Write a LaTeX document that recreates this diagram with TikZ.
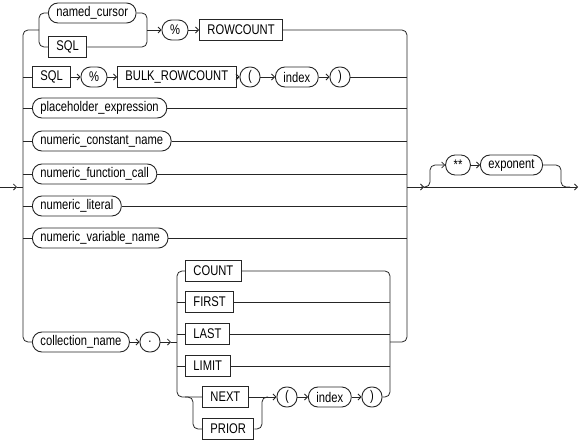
\documentclass[tikz,border=0pt]{standalone}
\usepackage{fontspec}
\setmainfont{Liberation Sans}[FakeStretch=0.8]
\usetikzlibrary{arrows.meta}
\begin{document}
\begin{tikzpicture}[x=1pt,y=-1pt,
  rr/.style={draw=black!85, line width=0.8pt, rounded corners=5pt},
  arr/.style={rr, -{Straight Barb[length=3pt,width=6pt]}},
  pill/.style={draw=black!85, line width=0.9pt, rounded corners=9.5pt, minimum height=20pt, minimum width=20pt, inner xsep=8pt, inner ysep=0pt, font=\fontsize{14}{16}\selectfont},
  kbox/.style={draw=black!85, line width=0.9pt, minimum height=21pt, inner xsep=8pt, inner ysep=0pt, font=\fontsize{14}{16}\selectfont}]
\useasboundingbox (0,0) rectangle (579,444);
% top row
\node[pill,anchor=west] (nc) at (48,13) {named\_cursor};
\node[kbox,anchor=west] (sql1) at (48,47) {SQL};
\node[pill] (pct1) at (175,30) {\%};
\node[kbox,anchor=west] (rc) at (199,30) {ROWCOUNT};
% row 2
\node[kbox,anchor=west] (sql2) at (32,77) {SQL};
\node[pill] (pct2) at (94,77) {\%};
\node[kbox,anchor=west] (bulk) at (117,77) {BULK\_ROWCOUNT};
\node[pill] (lp1) at (250,77) {(};
\node[pill,anchor=west] (idx1) at (275,77) {index};
\node[pill] (rp1) at (340,77) {)};
% simple rows
\node[pill,anchor=west] (ph) at (32,108) {placeholder\_expression};
\node[pill,anchor=west] (ncn) at (32,141) {numeric\_constant\_name};
\node[pill,anchor=west] (nfc) at (32,174) {numeric\_function\_call};
\node[pill,anchor=west] (nl) at (32,206) {numeric\_literal};
\node[pill,anchor=west] (nvn) at (32,238) {numeric\_variable\_name};
% collection row
\node[pill,anchor=west] (coll) at (32,342) {collection\_name};
\node[pill] (dot) at (150,342) {.};
\node[kbox,anchor=west] (count) at (185,271) {COUNT};
\node[kbox,anchor=west] (first) at (185,302) {FIRST};
\node[kbox,anchor=west] (last) at (185,334) {LAST};
\node[kbox,anchor=west] (limit) at (185,366) {LIMIT};
\node[kbox,anchor=west] (next) at (202,397) {NEXT};
\node[kbox,anchor=west] (prior) at (202,429) {PRIOR};
\node[pill] (lp2) at (287,397) {(};
\node[pill,anchor=west] (idx2) at (308,397) {index};
\node[pill] (rp2) at (372,397) {)};
% exponent
\node[pill] (stars) at (458,165) {**};
\node[pill,anchor=west] (expo) at (480,165) {exponent};
% coordinates
\coordinate (in) at (0,187);
\coordinate (inA) at (17,187);
\coordinate (trunkIn) at (23,187);
\coordinate (out) at (407,187);
\coordinate (loopA) at (424,187);
\coordinate (fin) at (578,187);
% entry and trunk
\draw[arr] (in) -- (inA);
\draw[rr] (inA) -- (trunkIn);
\draw[rr] (coll.west) -| (23,30) -- (39,30);
% top group
\draw[rr] (nc.west) -| (39,30) |- (sql1.west);
\draw[rr] (nc.east) -| (147,30) |- (sql1.east);
\draw[arr] (147,30) -- (pct1);
\draw[arr] (pct1) -- (rc);
\draw[rr] (rc.east) -| (407,342) -- (390,342);
% row 2
\draw[rr] (23,77) -- (sql2);
\draw[arr] (sql2) -- (pct2);
\draw[arr] (pct2) -- (bulk);
\draw[arr] (bulk) -- (lp1);
\draw[arr] (lp1) -- (idx1);
\draw[arr] (idx1) -- (rp1);
\draw[rr] (rp1) -- (407,77);
% simple rows
\foreach \n/\y in {ph/108,ncn/141,nfc/174,nl/206,nvn/238}{
  \draw[rr] (23,\y) -- (\n.west);
  \draw[rr] (\n.east) -- (407,\y);
}
% collection
\draw[arr] (coll) -- (dot);
\draw[arr] (dot) -- (171,342);
\draw[rr] (171,342) -- (177,342);
\draw[rr] (count.west) -| (177,397) -- (next.west);
\draw[rr] (177,302) -- (first.west);
\draw[rr] (177,334) -- (last.west);
\draw[rr] (177,366) -- (limit.west);
\draw[rr] (185,397) -| (193,429) -- (prior.west);
\draw[rr] (count.east) -| (390,397) -- (rp2.east);
\draw[rr] (first.east) -- (390,302);
\draw[rr] (last.east) -- (390,334);
\draw[rr] (limit.east) -- (390,366);
\draw[rr] (next.east) -- (262,397);
\draw[rr] (prior.east) -| (262,397) -- (268,397);
\draw[arr] (262,397) -- (lp2);
\draw[arr] (lp2) -- (idx2);
\draw[arr] (idx2) -- (rp2);
% exit with loop
\draw[arr] (out) -- (loopA);
\draw[arr] (loopA) -- (fin);
\draw[arr] (421,187) -| (430,165) -- (stars);
\draw[arr] (stars) -- (expo);
\draw[rr] (expo.east) -| (561,187) -- (570,187);
\end{tikzpicture}
\end{document}
